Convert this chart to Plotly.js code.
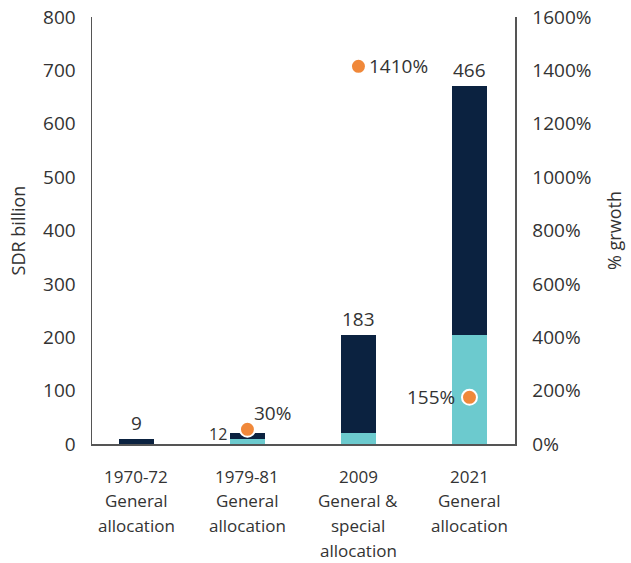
<!DOCTYPE html>
<html>
<head>
<meta charset="utf-8">
<script src="https://cdn.plot.ly/plotly-3.0.1.min.js"></script>
<style>html,body{margin:0;padding:0;background:#fff;}#chart{width:631px;height:563px;}</style>
</head>
<body>
<div id="chart"></div>
<script>
// Data
var categories = ["1970-72<br>General<br>allocation", "1979-81<br>General<br>allocation", "2009<br>General &<br>special<br>allocation", "2021<br>General<br>allocation"];
var previousCumulative = [0, 9, 21, 204];   // teal (prior allocations)
var newAllocation = [9, 12, 183, 466];       // navy (new allocation)
var growthPosition = [null, 55, 1415, 175];  // dot positions on % axis
var growthLabels = [null, "30%", "1410%", "155%"];

var xIdx = categories.map(function(_, i){ return i; });
var FONT = "'Open Sans', Lato, sans-serif";
var TXT = "#333333";

var traces = [
  {type:"bar", x:xIdx, y:previousCumulative, marker:{color:"#6CCACE"}, width:0.31, hoverinfo:"skip"},
  {type:"bar", x:xIdx, y:newAllocation, marker:{color:"#0B2240"}, width:0.31, hoverinfo:"skip"},
  {type:"scatter", mode:"markers", x:xIdx, y:growthPosition, yaxis:"y2",
   marker:{color:"#F0883A", size:15, line:{color:"#ffffff", width:2}}, hoverinfo:"skip"}
];

var annotations = [];
// x category labels, one line per annotation for exact line spacing
categories.forEach(function(cat, i){
  cat.split("<br>").forEach(function(line, k){
    annotations.push({x:xIdx[i], y:0, xref:"x", yref:"paper", text:line, showarrow:false,
      yanchor:"middle", yshift:-(32 + k*24.7), font:{family:FONT, size:17, color:TXT}});
  });
});
// bar value labels
var barLabelPos = ["top", "left", "top", "top"];
for (var i = 0; i < xIdx.length; i++) {
  var total = previousCumulative[i] + newAllocation[i];
  if (barLabelPos[i] === "top") {
    annotations.push({x:xIdx[i], y:total, xref:"x", yref:"y", text:String(newAllocation[i]),
      showarrow:false, yanchor:"bottom", yshift:1, font:{family:FONT, size:19, color:TXT}});
  } else {
    annotations.push({x:xIdx[i] - 0.16, y:total, xref:"x", yref:"y", text:String(newAllocation[i]),
      showarrow:false, xanchor:"right", yanchor:"middle", xshift:-1, yshift:-1, font:{family:FONT, size:16, color:TXT}});
  }
}
// growth labels
var growthSide = [null, "upright", "right", "left"];
for (var j = 0; j < xIdx.length; j++) {
  if (growthPosition[j] === null) continue;
  var a = {x:xIdx[j], y:growthPosition[j], xref:"x", yref:"y2", text:growthLabels[j],
    showarrow:false, font:{family:FONT, size:19, color:TXT}};
  if (growthSide[j] === "right") { a.xanchor = "left"; a.xshift = 9; }
  else if (growthSide[j] === "left") { a.xanchor = "right"; a.xshift = -12; }
  else { a.xanchor = "left"; a.yanchor = "bottom"; a.xshift = 5; a.yshift = 1; }
  annotations.push(a);
}

var layout = {
  width:631, height:563,
  margin:{l:92, r:116, t:17, b:119, pad:0},
  paper_bgcolor:"#ffffff", plot_bgcolor:"#ffffff",
  barmode:"stack", showlegend:false,
  font:{family:FONT, color:TXT, size:18},
  xaxis:{range:[-0.4, 3.41], tickvals:xIdx, showticklabels:false, showgrid:false, zeroline:false,
    showline:true, linecolor:"#555", linewidth:1.5, ticks:"", fixedrange:true},
  yaxis:{range:[0, 800], dtick:100, showgrid:false, zeroline:false, showline:true, linecolor:"#555", linewidth:1.5,
    ticks:"outside", ticklen:11, tickcolor:"rgba(0,0,0,0)", tickfont:{family:FONT, size:19, color:TXT},
    title:{text:"SDR billion", font:{family:FONT, size:18, color:TXT}, standoff:13}},
  yaxis2:{range:[0, 1600], dtick:200, overlaying:"y", side:"right", ticksuffix:"%", showgrid:false, zeroline:false,
    showline:true, linecolor:"#555", linewidth:1.5, ticks:"outside", ticklen:12, tickcolor:"rgba(0,0,0,0)",
    tickfont:{family:FONT, size:19, color:TXT},
    title:{text:"% grwoth", font:{family:FONT, size:18, color:TXT}, standoff:18}},
  annotations:annotations
};

Plotly.newPlot("chart", traces, layout, {displayModeBar:false, staticPlot:true});
</script>
</body>
</html>
